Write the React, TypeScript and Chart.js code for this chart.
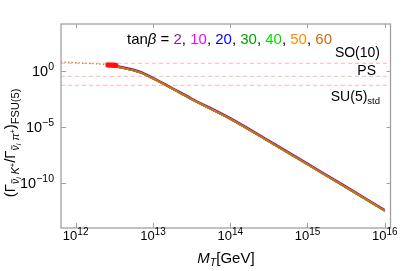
import { useEffect, useRef } from 'react';
import { Chart, registerables } from 'chart.js';
Chart.register(...registerables);

const W = 415;
const H = 271;
const FONT = '"Liberation Sans", Arial, sans-serif';

// Axis ranges (GeV, ratio)
const xMin = 6.46e11;
const xMax = 1.186e16;
const yMin = 1.05e-14;
const yMax = 1.53e4;

const xTickValues = [1e12, 1e13, 1e14, 1e15, 1e16];
const xTickExponents = ['12', '13', '14', '15', '16'];
const yTickValues = [1e0, 1e-5, 1e-10];
const yTickExponents = ['0', '\u22125', '\u221210'];

const tanBetaLabels = ['2', '10', '20', '30', '40', '50', '60'];
const tanBetaColors = ['#8a1f94', '#ff00ff', '#0000ff', '#00a000', '#00dd00', '#ff8a00', '#d06a10'];

// M_T values for the solid curves
const massGeV = [2.75e12, 3.98e12, 6.76e12, 1.0e13, 1.66e13, 3.16e13, 1.0e14, 3.16e14, 1.0e15, 3.16e15, 1.0e16];

// Ratio (Gamma_K / Gamma_pi)_FSU(5) for each tan(beta)
const ratioTan2 = [3.65, 2.42, 0.94, 0.27, 0.0429, 3.84e-3, 6.81e-5, 6.81e-7, 6.06e-9, 5.41e-11, 4.5e-13];
const ratioTan10 = [2.89, 1.92, 0.745, 0.214, 0.034, 3.04e-3, 5.4e-5, 5.4e-7, 4.8e-9, 4.28e-11, 3.56e-13];
const ratioTan20 = [2.89, 1.92, 0.745, 0.214, 0.034, 3.04e-3, 5.4e-5, 5.4e-7, 4.8e-9, 4.28e-11, 3.56e-13];
const ratioTan30 = [2.87, 1.9, 0.737, 0.212, 0.0337, 3.01e-3, 5.34e-5, 5.34e-7, 4.75e-9, 4.24e-11, 3.53e-13];
const ratioTan40 = [2.87, 1.9, 0.737, 0.212, 0.0337, 3.01e-3, 5.34e-5, 5.34e-7, 4.75e-9, 4.24e-11, 3.53e-13];
const ratioTan50 = [2.87, 1.9, 0.737, 0.212, 0.0337, 3.01e-3, 5.34e-5, 5.34e-7, 4.75e-9, 4.24e-11, 3.53e-13];
const ratioTan60 = [2.81, 1.86, 0.723, 0.208, 0.033, 2.95e-3, 5.24e-5, 5.24e-7, 4.66e-9, 4.16e-11, 3.46e-13];
const ratioSeries = [ratioTan2, ratioTan10, ratioTan20, ratioTan30, ratioTan40, ratioTan50, ratioTan60];

// Dotted (excluded) region at low M_T
const dottedMass = [6.46e11, 1.0e12, 1.58e12, 2.75e12];
const dottedRatio = [6.3, 5.5, 4.6, 3.6];

// Red markers at the start of the allowed region
const redDotMass = [2.62e12, 2.78e12, 2.95e12, 3.12e12, 3.3e12];
const redDotRatio = [3.45, 3.4, 3.35, 3.3, 3.25];

// Reference model values
const modelValues = [4.85, 0.337, 0.0533];
const modelNames = ['SO(10)', 'PS', 'SU(5)'];

type Run = { t: string; s: number; it?: boolean; dy?: number; c?: string; bar?: boolean };

function fontOf(r: Run) {
  return `${r.it ? 'italic ' : ''}${r.s}px ${FONT}`;
}
function runsWidth(ctx: CanvasRenderingContext2D, runs: Run[]) {
  let w = 0;
  for (const r of runs) {
    ctx.font = fontOf(r);
    w += ctx.measureText(r.t).width;
  }
  return w;
}
function drawRuns(ctx: CanvasRenderingContext2D, x: number, y: number, runs: Run[], align: 'left' | 'center' | 'right') {
  const w = runsWidth(ctx, runs);
  let cx = align === 'left' ? x : align === 'center' ? x - w / 2 : x - w;
  ctx.textAlign = 'left';
  ctx.textBaseline = 'alphabetic';
  for (const r of runs) {
    ctx.font = fontOf(r);
    ctx.fillStyle = r.c || '#000';
    const dy = r.dy || 0;
    ctx.fillText(r.t, cx, y + dy);
    const mw = ctx.measureText(r.t).width;
    if (r.bar) {
      ctx.strokeStyle = r.c || '#000';
      ctx.lineWidth = 0.8;
      ctx.beginPath();
      ctx.moveTo(cx + 0.8, y + dy - r.s * 0.68);
      ctx.lineTo(cx + mw - 0.3, y + dy - r.s * 0.68);
      ctx.stroke();
    }
    cx += mw;
  }
}

const decorPlugin = {
  id: 'decor',
  afterDatasetsDraw(chart: any) {
    const ctx: CanvasRenderingContext2D = chart.ctx;
    const { left, right, top, bottom } = chart.chartArea;
    const xs = chart.scales.x;
    const ys = chart.scales.y;
    ctx.save();
    // frame
    ctx.strokeStyle = '#a0a0a0';
    ctx.lineWidth = 1.3;
    ctx.strokeRect(left, top, right - left, bottom - top);
    // ticks
    ctx.lineWidth = 1;
    ctx.strokeStyle = '#a0a0a0';
    ctx.beginPath();
    for (const v of xTickValues) {
      const px = Math.round(xs.getPixelForValue(v)) + 0.5;
      ctx.moveTo(px, bottom);
      ctx.lineTo(px, bottom - 5);
      ctx.moveTo(px, top);
      ctx.lineTo(px, top + 4);
    }
    for (const v of yTickValues) {
      const py = Math.round(ys.getPixelForValue(v)) + 0.5;
      ctx.moveTo(left, py);
      ctx.lineTo(left + 5, py);
      ctx.moveTo(right, py);
      ctx.lineTo(right - 4, py);
    }
    ctx.stroke();

    // x tick labels
    xTickValues.forEach((v, i) => {
      const px = xs.getPixelForValue(v);
      drawRuns(ctx, px, 240, [
        { t: '10', s: 13 },
        { t: xTickExponents[i], s: 10, dy: -5 },
      ], 'center');
    });
    // y tick labels
    yTickValues.forEach((v, i) => {
      const py = ys.getPixelForValue(v);
      drawRuns(ctx, 54, py + 5, [
        { t: '10', s: 14.5 },
        { t: yTickExponents[i], s: 10.5, dy: -6 },
      ], 'right');
    });

    // x title
    drawRuns(ctx, 226, 263, [
      { t: 'M', s: 15, it: true },
      { t: 'T', s: 10.5, it: true, dy: 3 },
      { t: '[GeV]', s: 15 },
    ], 'center');

    // y title (rotated)
    ctx.save();
    ctx.translate(15, 143);
    ctx.rotate(-Math.PI / 2);
    drawRuns(ctx, 0, 0, [
      { t: '(\u0393', s: 15 },
      { t: '\u03bd', s: 10.5, it: true, dy: 4, bar: true },
      { t: 'i', s: 7.5, it: true, dy: 6 },
      { t: ' K', s: 10.5, it: true, dy: 4 },
      { t: '+', s: 7.5, dy: 0 },
      { t: '/\u0393', s: 15 },
      { t: '\u03bd', s: 10.5, it: true, dy: 4, bar: true },
      { t: 'i', s: 7.5, it: true, dy: 6 },
      { t: ' \u03c0', s: 10.5, it: true, dy: 4 },
      { t: '+', s: 7.5, dy: 0 },
      { t: ')', s: 15 },
      { t: 'FSU(5)', s: 11, dy: 4 },
    ], 'center');
    ctx.restore();

    // tan beta legend
    const legend: Run[] = [
      { t: 'tan', s: 15 },
      { t: '\u03b2', s: 15, it: true },
      { t: ' = ', s: 15 },
    ];
    tanBetaLabels.forEach((lab, i) => {
      legend.push({ t: lab, s: 15, c: tanBetaColors[i] });
      if (i < tanBetaLabels.length - 1) legend.push({ t: ', ', s: 15 });
    });
    drawRuns(ctx, 127, 44, legend, 'left');

    // model labels
    drawRuns(ctx, 380, 57, [{ t: modelNames[0], s: 14 }], 'right');
    drawRuns(ctx, 376, 75, [{ t: modelNames[1], s: 14 }], 'right');
    drawRuns(ctx, 380, 100.5, [
      { t: modelNames[2], s: 14 },
      { t: 'std', s: 9.5, dy: 3 },
    ], 'right');
    ctx.restore();
  },
};

export default function App() {
  const ref = useRef<HTMLCanvasElement | null>(null);
  useEffect(() => {
    document.body.style.margin = '0';
    const canvas = ref.current;
    if (!canvas) return;
    const datasets: any[] = [];
    datasets.push({
      label: 'start',
      data: redDotMass.map((x, i) => ({ x, y: redDotRatio[i] })),
      showLine: false,
      pointRadius: 2.6,
      pointBackgroundColor: '#ff1010',
      pointBorderWidth: 0,
      borderColor: '#ff1010',
      order: 0,
    });
    ratioSeries.forEach((arr, i) => {
      datasets.push({
        label: 'tanb=' + tanBetaLabels[i],
        data: massGeV.map((x, j) => ({ x, y: arr[j] })),
        borderColor: tanBetaColors[i],
        borderWidth: 1.6,
        pointRadius: 0,
        cubicInterpolationMode: 'monotone',
        fill: false,
        order: 8 - i,
      });
    });
    datasets.push({
      label: 'dotted',
      data: dottedMass.map((x, i) => ({ x, y: dottedRatio[i] })),
      borderColor: '#cc7a20',
      borderWidth: 1.3,
      borderDash: [1.3, 2.2],
      pointRadius: 0,
      cubicInterpolationMode: 'monotone',
      fill: false,
      order: 9,
    });
    modelValues.forEach((v, i) => {
      datasets.push({
        label: modelNames[i],
        data: [{ x: xMin, y: v }, { x: xMax, y: v }],
        borderColor: '#ffb4b4',
        borderWidth: 1,
        borderDash: [4, 3],
        pointRadius: 0,
        fill: false,
        order: 10,
      });
    });

    const chart = new Chart(canvas, {
      type: 'line',
      data: { datasets },
      options: {
        animation: false,
        responsive: false,
        maintainAspectRatio: false,
        devicePixelRatio: 1,
        layout: { padding: { left: 61, right: 24.5, top: 24, bottom: 43 } },
        plugins: { legend: { display: false }, tooltip: { enabled: false } },
        scales: {
          x: { type: 'logarithmic', min: xMin, max: xMax, display: false },
          y: { type: 'logarithmic', min: yMin, max: yMax, display: false },
        },
      },
      plugins: [decorPlugin],
    } as any);
    return () => chart.destroy();
  }, []);
  return (
    <div style={{ width: W, height: H, background: '#fff' }}>
      <canvas ref={ref} width={W} height={H} style={{ width: W, height: H, display: 'block' }} />
    </div>
  );
}
